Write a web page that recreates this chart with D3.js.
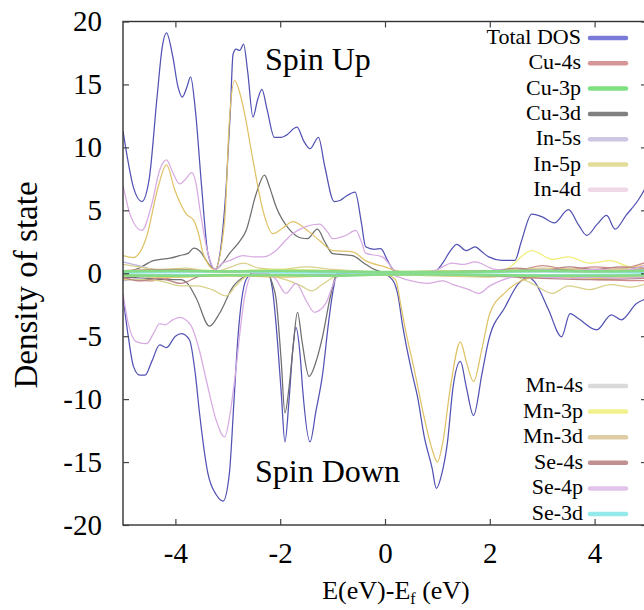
<!DOCTYPE html>
<html>
<head>
<meta charset="utf-8">
<script src="https://cdn.jsdelivr.net/npm/d3@7"></script>
<style>
  body { margin: 0; background: #fff; }
  svg { display: block; font-family: "Liberation Serif", "Times New Roman", serif; }
</style>
</head>
<body>
<svg id="chart" width="644" height="610"></svg>
<script>
// axis values
const xTicks = [-4, -2, 0, 2, 4];
const yTicks = [-20, -15, -10, -5, 0, 5, 10, 15, 20];

// legend groups (top right / bottom right)
const legendTop = ['Total DOS', 'Cu-4s', 'Cu-3p', 'Cu-3d', 'In-5s', 'In-5p', 'In-4d'];
const legendBottom = ['Mn-4s', 'Mn-3p', 'Mn-3d', 'Se-4s', 'Se-4p', 'Se-3d'];

// [energy, dos], spin up / spin down
const totalUp = [[-5,11.3],[-4.9,8.8],[-4.8,6.8],[-4.64,5.7],[-4.5,7.5],[-4.35,14],[-4.25,18],[-4.17,19.1],[-4.05,17.2],[-3.95,14.8],[-3.87,14.0],[-3.78,14.8],[-3.71,15.6],[-3.62,13],[-3.5,6.9],[-3.38,1.6],[-3.24,0.3],[-3.12,2.5],[-3.03,6.9],[-2.95,13],[-2.9,17.4],[-2.84,17.8],[-2.77,17.7],[-2.7,18.2],[-2.62,16],[-2.52,12.4],[-2.43,13.8],[-2.35,14.6],[-2.25,13],[-2.11,10.8],[-1.98,10.8],[-1.89,10.95],[-1.68,11.6],[-1.55,10.5],[-1.43,9.9],[-1.27,10.8],[-1.15,8.5],[-0.97,5.7],[-0.85,5.8],[-0.75,6.1],[-0.57,6.45],[-0.45,4],[-0.37,2.1],[-0.2,1.9],[-0.08,1.96],[0.05,1.0],[0.2,0.1],[0.5,0.05],[0.93,0.1],[1.1,0.8],[1.25,1.8],[1.37,2.3],[1.55,1.8],[1.72,2.1],[1.85,1.7],[1.98,1.3],[2.23,1.03],[2.48,1.03],[2.6,2.5],[2.8,4.7],[2.99,4.5],[3.23,4.0],[3.5,5.05],[3.7,3.8],[3.85,3.0],[4.05,3.9],[4.23,4.6],[4.39,3.5],[4.6,4.6],[4.83,5.8],[5,7.0]];
const totalDown = [[-5,-1.9],[-4.9,-5],[-4.8,-7.4],[-4.68,-8.1],[-4.58,-8.1],[-4.45,-7],[-4.3,-5.7],[-4.17,-5.9],[-4.0,-5.0],[-3.88,-4.8],[-3.73,-5.3],[-3.62,-8],[-3.54,-11.1],[-3.38,-15.9],[-3.22,-17.6],[-3.09,-18.1],[-2.97,-15.9],[-2.88,-10],[-2.81,-5.3],[-2.65,-0.5],[-2.52,0],[-2.24,0],[-2.15,-1.2],[-2.08,-4],[-1.98,-9.5],[-1.91,-13.4],[-1.83,-10],[-1.76,-6.1],[-1.7,-4.3],[-1.62,-6.5],[-1.57,-9.3],[-1.43,-13.4],[-1.32,-11],[-1.19,-8],[-1.08,-4],[-1.0,-1.6],[-0.91,0],[-0.05,0],[0.14,-0.5],[0.25,-1.8],[0.33,-4.0],[0.52,-8.0],[0.62,-9.8],[0.75,-13],[0.9,-15.5],[0.98,-17.1],[1.08,-16],[1.19,-13.5],[1.3,-9],[1.44,-7.0],[1.55,-9],[1.69,-11.3],[1.85,-8],[1.98,-5.3],[2.29,-2.7],[2.55,-0.8],[2.74,-0.3],[2.86,-0.7],[3.12,-2.9],[3.37,-5.05],[3.53,-3.2],[3.69,-3.6],[4.04,-4.5],[4.32,-3.3],[4.51,-3.7],[4.8,-2.4],[5,-2.0]];

const cu4sUp = [[-5,0.2],[-4,0.1],[-3,0.2],[-2,0.1],[-1,0.2],[0,0.1],[1,0.1],[2,0.2],[2.5,0.2],[3,0.6],[3.5,0.3],[4,0.5],[4.5,0.4],[5,0.9]];
const cu4sDown = [[-5,-0.4],[-4.5,-0.6],[-4,-0.3],[-3,-0.1],[-2,-0.1],[-1,-0.2],[0,-0.1],[1,-0.1],[2,-0.2],[3,-0.3],[4,-0.5],[5,-0.6]];
const cu3pUp = [[-5,0.15],[-4,0.2],[-3,0.15],[-2,0.2],[-1,0.15],[0,0.1],[1,0.1],[2,0.15],[3,0.2],[4,0.15],[5,0.2]];
const cu3pDown = [[-5,-0.15],[-4,-0.2],[-3,-0.15],[-2,-0.15],[-1,-0.2],[0,-0.1],[1,-0.1],[2,-0.15],[3,-0.2],[4,-0.2],[5,-0.15]];
const cu3dUp = [[-5,0.1],[-4.7,0.4],[-4.42,1.0],[-4.1,1.2],[-3.92,1.4],[-3.75,1.6],[-3.65,2.0],[-3.5,1.6],[-3.41,1.0],[-3.24,0.3],[-3.1,0.8],[-2.97,1.56],[-2.8,2.4],[-2.65,3.4],[-2.46,6.3],[-2.3,7.8],[-2.2,6.8],[-2.08,5.3],[-1.83,3.5],[-1.6,2.8],[-1.48,2.75],[-1.29,3.5],[-1.15,2.5],[-1.0,1.56],[-0.62,1.4],[-0.4,0.8],[-0.25,0.4],[0,0.1],[1,0.1],[2,0.2],[3,0.3],[4,0.2],[5,0.3]];
const cu3dDown = [[-5,-0.3],[-4.5,-0.4],[-4.2,-0.5],[-3.9,-0.5],[-3.77,-0.8],[-3.6,-2.0],[-3.35,-4.2],[-3.16,-3.2],[-2.9,-1.06],[-2.65,-0.2],[-2.5,0],[-2.25,0],[-2.15,-0.8],[-2.08,-2],[-1.98,-7],[-1.91,-11.1],[-1.83,-9],[-1.76,-6.1],[-1.67,-3.1],[-1.58,-5.5],[-1.45,-8.2],[-1.3,-6.8],[-1.19,-5],[-1.05,-2],[-0.91,0],[0,0],[1,-0.1],[2,-0.2],[3,-0.2],[4,-0.2],[5,-0.2]];
const in5sUp = [[-5,0.9],[-4.7,0.6],[-4.4,0.3],[-4,0.2],[-3,0.1],[-2,0.2],[-1,0.1],[0,0.05],[1,0.1],[2,0.1],[3,0.2],[4,0.2],[5,0.3]];
const in5sDown = [[-5,-0.6],[-4.5,-0.3],[-4,-0.2],[-3,-0.1],[-2,-0.1],[-1,-0.1],[0,-0.05],[1,-0.1],[2,-0.1],[3,-0.2],[4,-0.3],[5,-0.2]];
const in5pUp = [[-5,0.7],[-4.7,0.5],[-4.3,0.3],[-3.8,0.4],[-3.3,0.1],[-3,0.4],[-2.7,0.8],[-2.4,0.4],[-2,0.3],[-1.5,0.5],[-1,0.3],[0,0.1],[1,0.2],[2,0.2],[3,0.4],[4,0.3],[5,0.4]];
const in5pDown = [[-5,-0.5],[-4.6,-0.5],[-4.3,-0.6],[-3.9,-1.0],[-3.6,-1.0],[-3.3,-1.3],[-3.03,-1.8],[-2.85,-1.0],[-2.7,-0.4],[-2.5,-0.1],[-2.2,-0.2],[-1.9,-0.5],[-1.6,-1.0],[-1.4,-1.4],[-1.2,-0.9],[-0.9,-0.2],[0,-0.1],[1,-0.2],[2,-0.3],[2.4,-0.2],[2.8,-0.8],[3.2,-1.6],[3.5,-1.0],[3.9,-1.3],[4.3,-0.9],[4.7,-1.1],[5,-0.8]];
const in4dUp = [[-5,0.1],[-4,0.15],[-3,0.1],[-2,0.1],[-1,0.1],[0,0.05],[1,0.05],[2,0.1],[3,0.1],[4,0.1],[5,0.1]];
const in4dDown = [[-5,-0.1],[-4,-0.15],[-3,-0.1],[-2,-0.1],[-1,-0.1],[0,-0.05],[1,-0.05],[2,-0.1],[3,-0.1],[4,-0.1],[5,-0.1]];
const mn4sUp = [[-5,0.1],[-3,0.1],[-1,0.1],[0,0.05],[1,0.05],[3,0.1],[5,0.1]];
const mn4sDown = [[-5,-0.1],[-3,-0.1],[-1,-0.1],[0,-0.05],[1,-0.1],[3,-0.1],[5,-0.1]];
const mn3pUp = [[-5,0.2],[-4,0.3],[-3,0.2],[-2,0.3],[-1,0.2],[0,0.1],[1,0.1],[2,0.15],[2.3,0.3],[2.8,1.8],[3.2,1.1],[3.5,1.3],[3.9,0.8],[4.3,1.0],[4.7,0.5],[5,0.7]];
const mn3pDown = [[-5,-0.2],[-4,-0.3],[-3,-0.2],[-2,-0.2],[-1,-0.2],[0,-0.1],[1,-0.1],[2,-0.2],[3,-0.3],[4,-0.3],[5,-0.2]];
const mn3dUp = [[-5,1.4],[-4.8,1.25],[-4.55,2.9],[-4.33,6.85],[-4.17,8.6],[-4.01,6.6],[-3.79,4.7],[-3.65,4.2],[-3.55,3.0],[-3.47,1.56],[-3.25,0.3],[-3.06,4.2],[-2.97,12.1],[-2.87,15.3],[-2.75,14],[-2.68,12.7],[-2.52,9.0],[-2.33,5.0],[-2.14,3.15],[-1.95,3.6],[-1.76,4.1],[-1.51,3.5],[-1.25,2.6],[-1.0,1.8],[-0.62,1.7],[-0.37,1.0],[0,0.5],[0.3,0.15],[1,0.1],[2,0.2],[3,0.2],[4,0.1],[5,0.1]];
const mn3dDown = [[-5,-0.2],[-4,-0.3],[-3,-0.2],[-2,-0.3],[-1,-0.2],[0,-0.1],[0.2,-0.5],[0.3,-2.5],[0.39,-4.5],[0.55,-7.5],[0.75,-11.5],[0.9,-14],[1.0,-15.0],[1.1,-13.5],[1.25,-9],[1.44,-5.45],[1.55,-7],[1.69,-8.6],[1.85,-6],[2.0,-3.2],[2.3,-1.5],[2.6,-0.6],[2.9,-0.3],[3.5,-0.3],[4,-0.4],[5,-0.3]];
const se4sUp = [[-5,0.2],[-4,0.3],[-3,0.1],[-2,0.2],[-1,0.1],[0,0.05],[1,0.1],[2,0.2],[2.5,0.4],[3,0.2],[3.5,0.5],[4,0.3],[4.5,0.5],[5,0.4]];
const se4sDown = [[-5,-0.3],[-4.7,-0.6],[-4.3,-0.4],[-3.9,-0.8],[-3.5,-0.2],[-3,-0.1],[-2,-0.1],[-1,-0.1],[0,-0.05],[1,-0.1],[2,-0.2],[3,-0.4],[4,-0.5],[5,-0.4]];
const se4pUp = [[-5,7.0],[-4.85,4.5],[-4.64,3.4],[-4.45,5.5],[-4.3,8.2],[-4.17,9.0],[-4.05,8],[-3.92,7.1],[-3.8,7.5],[-3.69,8.0],[-3.6,7],[-3.54,5.3],[-3.38,1.6],[-3.24,0.3],[-3.1,0.8],[-2.97,1.0],[-2.71,1.4],[-2.5,1.3],[-2.33,1.3],[-2.08,1.8],[-1.9,2.6],[-1.76,3.15],[-1.51,3.7],[-1.25,3.9],[-1.1,3.3],[-1.0,2.75],[-0.75,3.0],[-0.56,3.4],[-0.45,2.5],[-0.37,1.6],[-0.05,1.3],[0.2,0.2],[0.5,-0.1],[1.0,0.3],[1.28,0.8],[1.5,0.7],[1.72,0.9],[2.1,0.3],[2.5,0.2],[3,0.3],[3.5,0.2],[4,0.3],[4.5,0.2],[5,0.7]];
const se4pDown = [[-5,-1.6],[-4.9,-4],[-4.74,-5.45],[-4.55,-5.6],[-4.42,-4.8],[-4.3,-4.0],[-4.2,-4.1],[-4.05,-3.7],[-3.92,-3.5],[-3.71,-4.1],[-3.55,-6],[-3.41,-8.5],[-3.22,-11.7],[-3.06,-13.0],[-2.95,-11],[-2.87,-8.5],[-2.68,-1.9],[-2.52,0],[-2.24,0],[-2.08,-0.5],[-1.89,-1.6],[-1.7,-0.8],[-1.5,-2.2],[-1.35,-3.1],[-1.13,-2.4],[-0.91,-0.3],[-0.5,0],[0,0],[0.4,-0.5],[0.8,-0.8],[1.1,-0.6],[1.3,-0.9],[1.6,-1.3],[1.79,-1.6],[2.0,-1.0],[2.2,-0.6],[2.6,-0.2],[3,-0.3],[3.5,-0.4],[4,-0.3],[4.5,-0.4],[5,-0.3]];
const se3dUp = [[-5,0.05],[-3,0.1],[-1,0.05],[1,0.05],[3,0.1],[5,0.05]];
const se3dDown = [[-5,-0.05],[-3,-0.1],[-1,-0.05],[1,-0.05],[3,-0.1],[5,-0.05]];

const series = [
  { name: 'Total DOS', color: '#5252b4', up: totalUp, down: totalDown },
  { name: 'Cu-4s', color: '#d08c8c', up: cu4sUp, down: cu4sDown },
  { name: 'Cu-3d', color: '#6e6e6e', up: cu3dUp, down: cu3dDown },
  { name: 'In-5s', color: '#bcb4dc', up: in5sUp, down: in5sDown },
  { name: 'In-5p', color: '#d8d088', up: in5pUp, down: in5pDown },
  { name: 'In-4d', color: '#ecd0e2', up: in4dUp, down: in4dDown },
  { name: 'Mn-4s', color: '#d4d4d4', up: mn4sUp, down: mn4sDown },
  { name: 'Mn-3p', color: '#eeee78', up: mn3pUp, down: mn3pDown },
  { name: 'Mn-3d', color: '#e0c266', up: mn3dUp, down: mn3dDown },
  { name: 'Se-4s', color: '#b88484', up: se4sUp, down: se4sDown },
  { name: 'Se-4p', color: '#d8aae2', up: se4pUp, down: se4pDown },
  { name: 'Se-3d', color: '#8ee2e2', up: se3dUp, down: se3dDown },
  { name: 'Cu-3p', color: '#86dc86', up: cu3pUp, down: cu3pDown },
];
const legendColor = {
  'Total DOS': '#7a7ad8', 'Cu-4s': '#d49696', 'Cu-3p': '#80e080', 'Cu-3d': '#808080',
  'In-5s': '#cfc6e4', 'In-5p': '#e2dc98', 'In-4d': '#f0d8e6', 'Mn-4s': '#dadada',
  'Mn-3p': '#f2f28c', 'Mn-3d': '#e0cca4', 'Se-4s': '#c09090', 'Se-4p': '#e2c4ea', 'Se-3d': '#94eaea',
};

const svg = d3.select('#chart');
const frame = { l: 123, r: 647, t: 21.5, b: 525 };

const x = d3.scaleLinear().domain([-5, 5]).range([frame.l, frame.r]);
const y = d3.scaleLinear().domain([-20, 20]).range([frame.b, frame.t]);

svg.append('clipPath').attr('id', 'plot-clip')
  .append('rect')
  .attr('x', frame.l).attr('y', frame.t)
  .attr('width', frame.r - frame.l).attr('height', frame.b - frame.t);

const line = d3.line()
  .x((d) => x(d[0]))
  .y((d) => y(d[1]))
  .curve(d3.curveMonotoneX);

const linesG = svg.append('g').attr('clip-path', 'url(#plot-clip)');

series.forEach((s) => {
  const w = s.name === 'Cu-3p' ? 2.6 : 1.25;
  [s.up, s.down].forEach((pts) => {
    linesG.append('path')
      .attr('d', line(pts))
      .attr('fill', 'none')
      .attr('stroke', s.color)
      .attr('stroke-width', w)
      .attr('stroke-linejoin', 'round');
  });
});

// frame + axes, ticks pointing inward
svg.append('rect')
  .attr('x', frame.l).attr('y', frame.t)
  .attr('width', frame.r - frame.l).attr('height', frame.b - frame.t)
  .attr('fill', 'none')
  .attr('stroke', '#333')
  .attr('stroke-width', 1.4);

const plainNum = (d) => String(d); // hyphen minus like the original

const xAxis = svg.append('g')
  .attr('transform', `translate(0,${frame.b})`)
  .call(d3.axisBottom(x).tickValues(xTicks).tickFormat(plainNum).tickSize(-6).tickPadding(17));
const yAxis = svg.append('g')
  .attr('transform', `translate(${frame.l},0)`)
  .call(d3.axisLeft(y).tickValues(yTicks).tickFormat(plainNum).tickSize(-6).tickPadding(21));
svg.append('g')
  .attr('transform', `translate(0,${frame.t})`)
  .call(d3.axisTop(x).tickValues(xTicks).tickSize(-6).tickFormat(''));
svg.append('g')
  .attr('transform', `translate(${frame.r},0)`)
  .call(d3.axisRight(y).tickValues(yTicks).tickSize(-6).tickFormat(''));

svg.selectAll('.domain').remove();
svg.selectAll('.tick line').attr('stroke', '#444').attr('stroke-width', 1.2);

xAxis.selectAll('text')
  .attr('font-family', '"Liberation Serif", "Times New Roman", serif')
  .attr('font-size', 29)
  .attr('fill', '#000');
yAxis.selectAll('text')
  .attr('font-family', '"Liberation Serif", "Times New Roman", serif')
  .attr('font-size', 29)
  .attr('fill', '#000');

// axis titles
svg.append('text')
  .attr('transform', 'translate(37,285) rotate(-90)')
  .attr('text-anchor', 'middle')
  .attr('font-size', 33)
  .text('Density of state');

const xTitle = svg.append('text')
  .attr('x', 396).attr('y', 599)
  .attr('text-anchor', 'middle')
  .attr('font-size', 26);
xTitle.append('tspan').text('E(eV)-E');
xTitle.append('tspan').attr('font-size', 16).attr('dy', 5).text('f');
xTitle.append('tspan').attr('dy', -5).text(' (eV)');

// spin labels
svg.append('text').attr('x', 265).attr('y', 70).attr('font-size', 32).text('Spin Up');
svg.append('text').attr('x', 255).attr('y', 482).attr('font-size', 32).text('Spin Down');

// legends
const drawLegend = (names, top, step, textRight) => {
  const g = svg.append('g');
  names.forEach((name, i) => {
    const cy = top + i * step;
    g.append('text')
      .attr('x', textRight).attr('y', cy)
      .attr('dy', '0.32em')
      .attr('text-anchor', 'end')
      .attr('font-size', 22)
      .text(name);
    g.append('line')
      .attr('x1', 590).attr('x2', 626)
      .attr('y1', cy + 1).attr('y2', cy + 1)
      .attr('stroke', legendColor[name])
      .attr('stroke-width', 4.5)
      .attr('stroke-linecap', 'round');
  });
};
drawLegend(legendTop, 37, 25.3, 581);
drawLegend(legendBottom, 385, 25.6, 583);
</script>
</body>
</html>
